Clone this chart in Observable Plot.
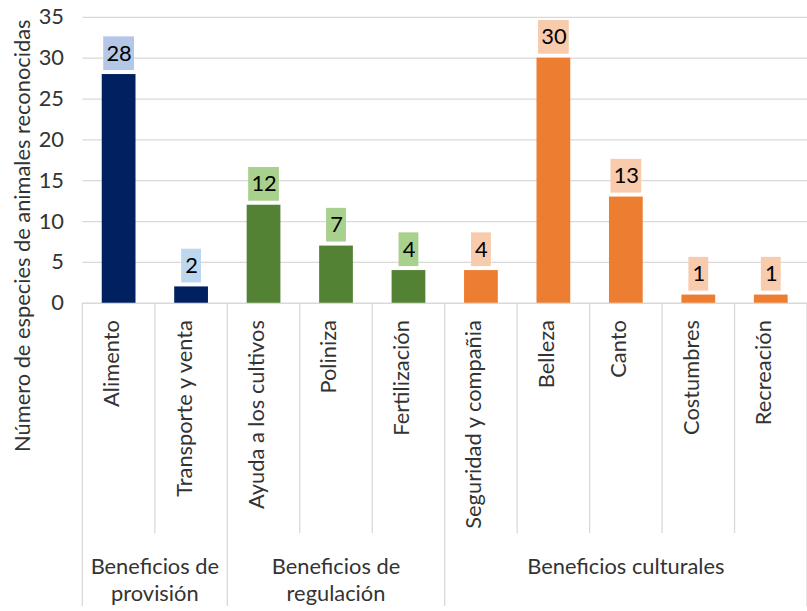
<!DOCTYPE html>
<html><head><meta charset="utf-8">
<script src="https://cdn.jsdelivr.net/npm/d3@7"></script>
<script src="https://cdn.jsdelivr.net/npm/@observablehq/plot@0.6"></script>
<style>body{margin:0;overflow:hidden;background:#fff} svg{display:block}</style>
</head><body><div id="chart"></div>
<script>
const categories = ["Alimento","Transporte y venta","Ayuda a los cultivos","Poliniza","Fertilización","Seguridad y compañia","Belleza","Canto","Costumbres","Recreación"];
const values = [28, 2, 12, 7, 4, 4, 30, 13, 1, 1];
const groupOfCategory = ["Beneficios de provisión","Beneficios de provisión","Beneficios de regulación","Beneficios de regulación","Beneficios de regulación","Beneficios culturales","Beneficios culturales","Beneficios culturales","Beneficios culturales","Beneficios culturales"];
const groupNames = ["Beneficios de provisión","Beneficios de regulación","Beneficios culturales"];
const groupLabelLines = [["Beneficios de","provisión"],["Beneficios de","regulación"],["Beneficios culturales"]];
const yTicks = [0, 5, 10, 15, 20, 25, 30, 35];
const yTitle = "Número de especies de animales reconocidas";

// styles
const barColors = {"Beneficios de provisión":"#002060","Beneficios de regulación":"#548235","Beneficios culturales":"#ed7d31"};
const boxColors = ["#b4c7e7","#bdd7ee","#a9d18e","#a9d18e","#a9d18e","#f8cbad","#f8cbad","#f8cbad","#f8cbad","#f8cbad"];
const FONT = "Lato, 'Open Sans', sans-serif";
const FS = 22;
const TXT = "#333333";

const rows = categories.map((c, i) => ({category: c, value: values[i], group: groupOfCategory[i], box: boxColors[i]}));
const wide = rows.filter(d => String(d.value).length > 1);
const narrow = rows.filter(d => String(d.value).length === 1);

const chart = Plot.plot({
  width: 813, height: 611,
  marginLeft: 83, marginRight: 0, marginTop: 17, marginBottom: 306,
  style: {fontFamily: FONT, fontSize: FS + "px", color: TXT, background: "#fff"},
  x: {domain: categories, padding: 0, axis: null},
  y: {domain: [0, 35], ticks: yTicks, tickSize: 0, tickPadding: 19, label: null, tickFormat: d => String(d)},
  color: {type: "identity"},
  marks: [
    Plot.ruleY(yTicks, {stroke: "#d9d9d9", strokeWidth: 1.3}),
    Plot.barY(rows, {x: "category", y: "value", fill: d => barColors[d.group], insetLeft: 19.5, insetRight: 19.5}),
    Plot.barY(wide, {x: "category", y1: "value", y2: "value", fill: "box", insetTop: -38, insetBottom: 4, insetLeft: 21, insetRight: 21}),
    Plot.barY(narrow, {x: "category", y1: "value", y2: "value", fill: "box", insetTop: -38, insetBottom: 4, insetLeft: 26.5, insetRight: 26.5}),
    Plot.text(rows, {x: "category", y: "value", text: d => String(d.value), dy: -21, fill: "#000", fontSize: FS, fontFamily: FONT}),
    Plot.text(rows, {x: "category", frameAnchor: "bottom", dy: 17, rotate: -90, textAnchor: "end", text: "category", fill: TXT, fontSize: FS, fontFamily: FONT}),
    Plot.text([yTitle], {frameAnchor: "left", dx: -60, dy: 76, rotate: -90, textAnchor: "middle", text: d => d, fill: TXT, fontSize: FS, fontFamily: FONT})
  ]
});

document.getElementById("chart").appendChild(chart);

// category separators and group labels via Plot's x scale
const xs = chart.scale("x");
const ys = chart.scale("y");
const bw = xs.bandwidth;
const y0 = ys.apply(0);
const svg = d3.select(chart);
const g = svg.append("g").attr("stroke", "#d9d9d9").attr("stroke-width", 1.3);
const n = categories.length;
for (let i = 0; i <= n; i++) {
  const xpos = i < n ? xs.apply(categories[i]) : xs.apply(categories[n - 1]) + bw;
  const isGroupEdge = i === 0 || i === n || groupOfCategory[i] !== groupOfCategory[i - 1];
  g.append("line").attr("x1", xpos).attr("x2", xpos).attr("y1", y0).attr("y2", isGroupEdge ? 611 : 537);
}
const tg = svg.append("g").attr("font-family", FONT).attr("font-size", FS).attr("fill", TXT).attr("text-anchor", "middle");
groupNames.forEach((gname, k) => {
  const members = categories.filter((c, i) => groupOfCategory[i] === gname);
  const x1 = xs.apply(members[0]);
  const x2 = xs.apply(members[members.length - 1]) + bw;
  groupLabelLines[k].forEach((line, j) => {
    tg.append("text").attr("x", (x1 + x2) / 2).attr("y", 570 + j * 27).attr("dominant-baseline", "central").text(line);
  });
});
</script>
</body></html>
